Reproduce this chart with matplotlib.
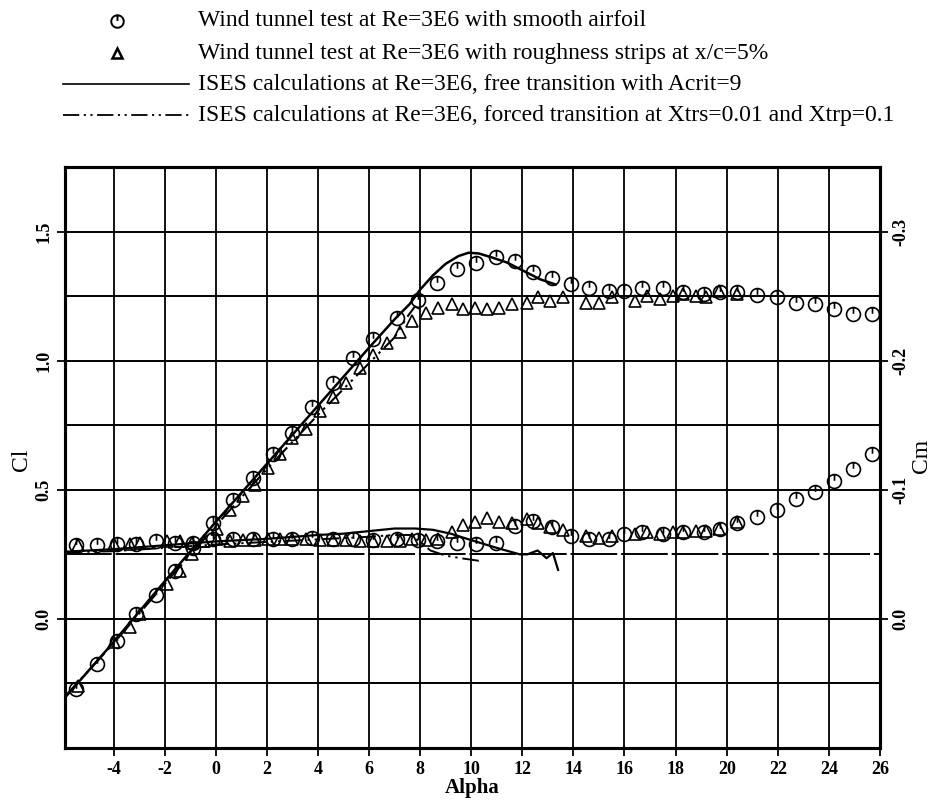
import numpy as np
import matplotlib
matplotlib.use("Agg")
import matplotlib.pyplot as plt
from matplotlib.lines import Line2D
from matplotlib.path import Path

plt.rcParams["font.family"] = ["Liberation Serif", "DejaVu Serif"]

# Wind tunnel, smooth airfoil
alpha_smooth = [-5.45, -4.66, -3.88, -3.10, -2.35, -1.60, -0.90, -0.10,
                0.67, 1.45, 2.23, 3.00, 3.76, 4.60, 5.37, 6.15,
                7.10, 7.90, 8.65, 9.45, 10.20, 10.96, 11.70, 12.40,
                13.15, 13.90, 14.60, 15.40, 16.00, 16.70, 17.50, 18.30,
                19.10, 19.75, 20.40, 21.20, 21.95, 22.70, 23.45, 24.20,
                24.95, 25.70]
cl_smooth = [-0.27, -0.175, -0.085, 0.02, 0.093, 0.186, 0.276, 0.37,
             0.46, 0.547, 0.64, 0.72, 0.82, 0.915, 1.01, 1.085,
             1.167, 1.235, 1.30, 1.355, 1.38, 1.40, 1.385, 1.345,
             1.32, 1.295, 1.28, 1.27, 1.27, 1.28, 1.28, 1.265,
             1.26, 1.265, 1.265, 1.255, 1.245, 1.225, 1.22, 1.20,
             1.18, 1.18]
cm_smooth = [-0.057, -0.057, -0.058, -0.058, -0.060, -0.059, -0.059, -0.062,
             -0.062, -0.062, -0.062, -0.062, -0.063, -0.062, -0.062, -0.061,
             -0.062, -0.061, -0.060, -0.059, -0.058, -0.059, -0.072, -0.076,
             -0.071, -0.064, -0.062, -0.062, -0.066, -0.067, -0.066, -0.067,
             -0.067, -0.070, -0.074, -0.079, -0.084, -0.093, -0.098, -0.107,
             -0.116, -0.128]

# Wind tunnel, roughness strips at x/c=5%
alpha_rough = [-5.40, -4.00, -3.35, -2.95, -1.90, -1.40, -0.93, -0.45,
               0.05, 0.55, 1.06, 1.53, 2.04, 2.50, 3.00, 3.55,
               4.07, 4.60, 5.10, 5.64, 6.15, 6.70, 7.20, 7.70,
               8.25, 8.70, 9.24, 9.67, 10.14, 10.60, 11.10, 11.60,
               12.20, 12.60, 13.10, 13.60, 14.50, 15.00, 15.50, 16.40,
               16.90, 17.40, 17.90, 18.30, 18.80, 19.20, 19.70, 20.40]
cl_rough = [-0.26, -0.09, -0.03, 0.02, 0.135, 0.185, 0.25, 0.30,
            0.35, 0.42, 0.477, 0.52, 0.585, 0.64, 0.70, 0.735,
            0.805, 0.86, 0.915, 0.973, 1.02, 1.07, 1.11, 1.155,
            1.185, 1.205, 1.22, 1.20, 1.205, 1.20, 1.205, 1.22,
            1.225, 1.245, 1.23, 1.245, 1.225, 1.225, 1.245, 1.23,
            1.25, 1.24, 1.25, 1.26, 1.25, 1.245, 1.27, 1.26]
cm_rough = [-0.057, -0.058, -0.058, -0.059, -0.060, -0.060, -0.059, -0.060,
            -0.062, -0.060, -0.061, -0.061, -0.062, -0.062, -0.062, -0.062,
            -0.061, -0.061, -0.061, -0.060, -0.060, -0.060, -0.060, -0.062,
            -0.061, -0.062, -0.067, -0.073, -0.075, -0.078, -0.075, -0.074,
            -0.077, -0.074, -0.071, -0.069, -0.064, -0.063, -0.064, -0.066,
            -0.067, -0.066, -0.067, -0.067, -0.068, -0.068, -0.070, -0.075]

# ISES, free transition (Acrit=9)
alpha_free_cl = [-5.9, -4.0, -2.0, 0.0, 2.0, 4.0, 6.0, 7.0, 7.6, 8.0,
                 8.5, 9.0, 9.5, 9.9, 10.3, 10.8, 11.4, 12.2, 12.7, 13.3]
cl_free = [-0.305, -0.09, 0.145, 0.375, 0.60, 0.825, 1.05, 1.16, 1.22, 1.275,
           1.33, 1.375, 1.405, 1.418, 1.415, 1.40, 1.38, 1.34, 1.315, 1.295]
alpha_free_cm = [-5.9, -4.0, -2.0, 0.0, 2.0, 4.0, 5.0, 6.0, 7.0, 7.8,
                 8.5, 9.2, 10.0, 11.0, 11.9, 12.2, 12.6, 12.95, 13.2, 13.4]
cm_free = [-0.052, -0.054, -0.057, -0.060, -0.062, -0.065, -0.066, -0.068, -0.070, -0.070,
           -0.069, -0.066, -0.061, -0.055, -0.050, -0.050, -0.053, -0.047, -0.051, -0.038]

# ISES, forced transition (Xtrs=0.01, Xtrp=0.1)
alpha_forced_cl = [-5.9, -4.0, -2.0, 0.0, 2.0, 4.0, 6.0, 7.0, 7.5, 7.8, 8.1]
cl_forced = [-0.30, -0.095, 0.135, 0.36, 0.58, 0.79, 0.99, 1.09, 1.17, 1.21, 1.195]
alpha_forced_cm = [-5.9, -4.0, -2.0, 0.0, 2.0, 4.0, 6.0, 7.0, 7.6, 8.0, 8.4, 9.0, 9.6, 10.3]
cm_forced = [-0.0516, -0.0524, -0.055, -0.0576, -0.0596, -0.0616, -0.0636, -0.065,
             -0.065, -0.060, -0.053, -0.049, -0.047, -0.045]

legend_labels = [
    "Wind tunnel test at Re=3E6 with smooth airfoil",
    "Wind tunnel test at Re=3E6 with roughness strips at x/c=5%",
    "ISES calculations at Re=3E6, free transition with Acrit=9",
    "ISES calculations at Re=3E6, forced transition at Xtrs=0.01 and Xtrp=0.1",
]

# circle with a tick from the top down to the centre
circ_tick = Path.make_compound_path(Path.unit_circle(), Path([[0, 1], [0, 0.1]]))
dash_dot = (0, (9, 2.5, 1.2, 2.5, 1.2, 2.5))

W, H = 932, 802
fig = plt.figure(figsize=(W / 100, H / 100), dpi=100)
ax = fig.add_axes([0.0697, 0.0673, 0.8745, 0.7245])
ax2 = ax.twinx()

ax.set_xlim(-5.9, 26)
ax.set_ylim(-0.5, 1.75)
ax2.set_ylim(0.1, -0.35)

for a in np.arange(-4, 26, 2):
    ax.axvline(a, color="black", lw=1.3, zorder=1)
for c in np.arange(-0.25, 1.75, 0.25):
    ls = (0, (24, 2)) if abs(c - 0.25) < 1e-9 else "-"
    ax.axhline(c, color="black", lw=1.4, ls=ls, zorder=1)

mk = dict(ls="none", mec="black", mfc="none", mew=1.2, zorder=3)
ax.plot(alpha_smooth, cl_smooth, marker=circ_tick, ms=10, **mk)
ax.plot(alpha_rough, cl_rough, marker="^", ms=8, **mk)
ax.plot(alpha_free_cl, cl_free, color="black", lw=1.8, zorder=2)
ax.plot(alpha_forced_cl, cl_forced, color="black", lw=1.5, ls=dash_dot, zorder=2)

ax2.plot(alpha_smooth, cm_smooth, marker=circ_tick, ms=10, **mk)
ax2.plot(alpha_rough, cm_rough, marker="^", ms=8, **mk)
ax2.plot(alpha_free_cm, cm_free, color="black", lw=1.6, zorder=2)
ax2.plot(alpha_forced_cm, cm_forced, color="black", lw=1.4, ls=dash_dot, zorder=2)

tick_font = dict(fontsize=13, fontweight="bold")
ax.set_xticks(np.arange(-4, 27, 2))
ax.set_xticklabels([str(v) for v in range(-4, 27, 2)], **tick_font)
ax.set_yticks([0.0, 0.5, 1.0, 1.5])
ax.set_yticklabels(["0.0", "0.5", "1.0", "1.5"], rotation=90, va="center", **tick_font)
ax2.set_yticks([0.0, -0.1, -0.2, -0.3])
ax2.set_yticklabels(["0.0", "-0.1", "-0.2", "-0.3"], rotation=90, va="center", **tick_font)
ax.tick_params(axis="both", direction="out", length=6, width=1.3, pad=3)
ax2.tick_params(axis="y", direction="out", length=6, width=1.3, pad=3)

ax.set_xlabel("Alpha", fontsize=15, fontweight="bold", labelpad=0)
fig.text(21 / W, 1 - 460 / H, "Cl", fontsize=17, rotation=90, ha="center", va="center")
fig.text(921 / W, 1 - 456 / H, "Cm", fontsize=17, rotation=90, ha="center", va="center")

for a in (ax, ax2):
    for s in a.spines.values():
        s.set_linewidth(2.2)


# legend block above the axes, laid out in figure pixels
def fy(y):
    return 1 - y / H


rows_y = [21, 53, 84, 115]
fig.add_artist(Line2D([117 / W], [fy(rows_y[0])], marker=circ_tick, ms=9,
                      mec="black", mfc="none", mew=1.4, ls="none"))
fig.add_artist(Line2D([117 / W], [fy(rows_y[1])], marker="^", ms=7,
                      mec="black", mfc="none", mew=1.8, ls="none"))
fig.add_artist(Line2D([63 / W, 189 / W], [fy(rows_y[2])] * 2, color="black", lw=1.2))
fig.add_artist(Line2D([63 / W, 189 / W], [fy(rows_y[3])] * 2, color="black", lw=1.3,
                      ls=dash_dot))
for i, label in enumerate(legend_labels):
    fig.text(198 / W, fy(rows_y[i]), label, fontsize=17, va="center", ha="left")

fig.savefig("out.png", dpi=100)
